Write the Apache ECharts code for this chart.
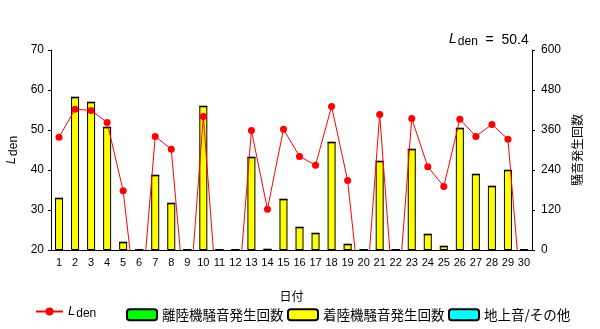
<!DOCTYPE html>
<html><head><meta charset="utf-8">
<script src="https://cdn.jsdelivr.net/npm/echarts@6/dist/echarts.min.js"></script>
<style>html,body{margin:0;padding:0;background:#fff}#c{width:600px;height:329px}</style>
</head><body><div id="c"></div>
<script>
const days = ['1','2','3','4','5','6','7','8','9','10','11','12','13','14','15','16','17','18','19','20','21','22','23','24','25','26','27','28','29','30'];
const lden = [48.2,55.2,54.9,51.9,34.8,0,48.4,45.2,0,53.4,0,0,49.9,30.2,50.2,43.4,41.2,55.9,37.4,0,53.9,0,52.9,40.8,35.9,52.7,48.4,51.4,47.7,0];
const departures = [0,0,0,0,0,0,0,0,0,0,0,0,0,0,0,0,0,0,0,0,0,0,0,0,0,0,0,0,0,0];
const arrivals = [155,458,443,368,23,0,224,140,0,431,0,0,278,2,152,68,50,323,17,0,266,0,302,47,11,365,227,191,239,0];
const ground = [0,0,0,0,0,0,0,0,0,0,0,0,0,0,0,0,0,0,0,0,0,0,0,0,0,0,0,0,0,0];
const leftTicks = {min:20,max:70,interval:10};
const rightTicks = {min:0,max:600,interval:120};
const ldenTotal = '50.4';

const FONT = '"Liberation Sans", Arial, sans-serif';
const JP = '"Noto Sans CJK JP", sans-serif';
const chart = echarts.init(document.getElementById('c'));
const rich = {
  i:{fontFamily:FONT,fontStyle:'italic',fontSize:13,color:'#000'},
  s:{fontFamily:FONT,fontSize:12,color:'#000',padding:[5,0,0,1]}
};
// plot area geometry (pixels) for the visible grid
const G = {left:51,right:68,top:50,bottom:79,outerBoundsMode:'none',containLabel:false};
const plotH = 329 - G.top - G.bottom;
// the Lden line uses a hidden twin axis with the same scale, extended down to 0
const lineH = plotH * leftTicks.max / (leftTicks.max - leftTicks.min);
chart.setOption({
  animation:false,
  title:{left:444,top:26,z:20,text:'{l|L}{s|den}{n|  =  '+ldenTotal+'}',
    textStyle:{fontWeight:'normal',rich:{
      l:{fontFamily:FONT,fontStyle:'italic',fontSize:14,color:'#000'},
      s:{fontFamily:FONT,fontSize:12,color:'#000',padding:[5,0,0,1]},
      n:{fontFamily:FONT,fontSize:14,color:'#000',padding:[2,0,0,0]}}}},
  grid:[G,{left:G.left,right:G.right,top:G.top,height:lineH,outerBoundsMode:'none',containLabel:false}],
  graphic:[{type:'rect',z:8,silent:true,shape:{x:0,y:329-G.bottom+1,width:600,height:G.bottom},style:{fill:'#fff'}}],
  legend:[
    {left:30,top:300,z:20,itemWidth:27,itemHeight:10,data:['Lden'],
     formatter:()=> '{i|L}{s|den}',textStyle:{rich:rich}},
    {left:121,top:303,z:20,itemWidth:30,itemHeight:11,itemGap:3.5,
     data:['離陸機騒音発生回数','着陸機騒音発生回数','地上音/その他'],
     textStyle:{fontFamily:JP,fontSize:13.5,color:'#000'}}
  ],
  xAxis:[
    {type:'category',data:days,name:'日付',nameLocation:'middle',nameGap:40,z:20,
    nameTextStyle:{fontFamily:JP,fontSize:12,color:'#000'},
    axisLine:{lineStyle:{color:'#000',width:1}},
    axisTick:{alignWithLabel:true,length:3,lineStyle:{color:'#000'}},
    axisLabel:{fontFamily:FONT,fontSize:11,color:'#000',margin:7,interval:0}},
    {type:'category',data:days,gridIndex:1,show:false}
  ],
  yAxis:[
    {type:'value',min:leftTicks.min,max:leftTicks.max,interval:leftTicks.interval,z:20,
     name:'{i|L}{s|den}',nameLocation:'middle',nameRotate:90,nameGap:27,
     nameTextStyle:{rich:rich},
     axisLine:{show:true,lineStyle:{color:'#000'}},
     axisTick:{show:true,length:3,lineStyle:{color:'#000'}},
     axisLabel:{fontFamily:FONT,fontSize:12,color:'#000',margin:7},
     splitLine:{show:false}},
    {type:'value',min:rightTicks.min,max:rightTicks.max,interval:rightTicks.interval,z:20,
     name:'騒音発生回数',nameLocation:'middle',nameRotate:90,nameGap:38,
     nameTextStyle:{fontFamily:JP,fontSize:12,color:'#000'},
     axisLine:{show:true,lineStyle:{color:'#000'}},
     axisTick:{show:true,length:3,lineStyle:{color:'#000'}},
     axisLabel:{fontFamily:FONT,fontSize:12,color:'#000',margin:9},
     splitLine:{show:false}},
    {type:'value',gridIndex:1,min:0,max:leftTicks.max,show:false,splitLine:{show:false}}
  ],
  series:[
    {name:'離陸機騒音発生回数',type:'bar',yAxisIndex:1,stack:'n',barWidth:8,data:departures,
     itemStyle:{color:'#00ff00',borderColor:'#000',borderWidth:1}},
    {name:'着陸機騒音発生回数',type:'bar',yAxisIndex:1,stack:'n',barWidth:8,data:arrivals,
     itemStyle:{color:'#ffff00',borderColor:'#000',borderWidth:1}},
    {name:'地上音/その他',type:'bar',yAxisIndex:1,stack:'n',barWidth:8,data:ground,
     itemStyle:{color:'#00ffff',borderColor:'#000',borderWidth:1}},
    {name:'Lden',type:'line',xAxisIndex:1,yAxisIndex:2,data:lden,z:5,clip:true,
     symbol:'circle',symbolSize:7,
     lineStyle:{color:'#ff0000',width:1},itemStyle:{color:'#ff0000'}}
  ]
});
</script></body></html>
